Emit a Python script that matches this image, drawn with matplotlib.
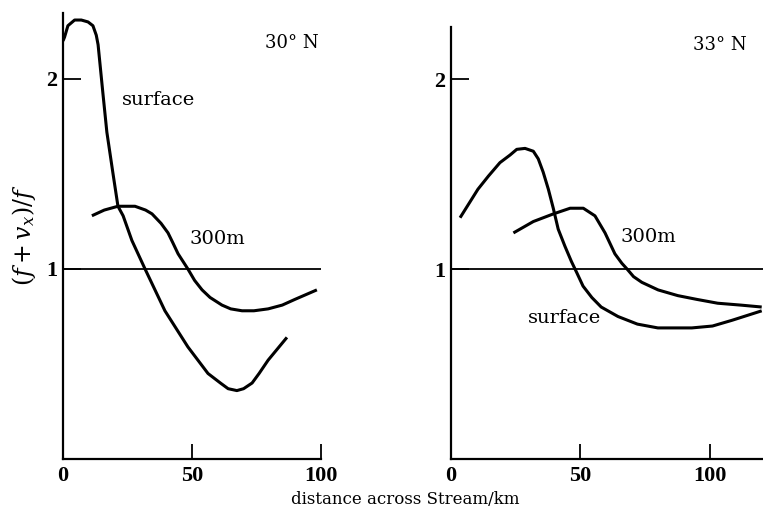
import matplotlib
matplotlib.use("Agg")
import matplotlib.pyplot as plt

plt.rcParams['font.family'] = 'DejaVu Serif'
plt.rcParams['mathtext.fontset'] = 'dejavuserif'

# ---- 30 N panel ----
x30_surf = [0, 0.6, 1.9, 4.5, 7.1, 9.7, 11.6, 12.9, 13.6, 15.5, 17, 19.4, 21.3, 23.3,
            26.7, 31.8, 39.5, 48.4, 56.2, 61, 64, 67.4, 70, 73.3, 76, 79.5, 86.8]
y30_surf = [2.20, 2.22, 2.28, 2.31, 2.31, 2.30, 2.28, 2.23, 2.18, 1.92, 1.72, 1.50,
            1.33, 1.28, 1.15, 1.0, 0.78, 0.59, 0.45, 0.40, 0.37, 0.36, 0.37, 0.40,
            0.45, 0.52, 0.64]
x30_300 = [11.2, 16, 21.3, 27.9, 32, 34.5, 38, 40.7, 42.5, 44.6, 46.5, 48.4, 51,
           53.9, 57, 61.6, 65, 69.4, 74, 79.5, 85, 89.9, 98.4]
y30_300 = [1.28, 1.31, 1.33, 1.33, 1.31, 1.29, 1.24, 1.19, 1.14, 1.08, 1.04, 1.0,
           0.94, 0.89, 0.85, 0.81, 0.79, 0.78, 0.78, 0.79, 0.81, 0.84, 0.89]

# ---- 33 N panel ----
x33_surf = [3.5, 10.4, 14.5, 18.9, 22.8, 25.4, 28.6, 31.8, 33.7, 35.6, 37.6, 39.5,
            41.4, 44.0, 46.5, 48.6, 51, 54.4, 58, 64.5, 72, 79.9, 93, 101, 108.5, 120]
y33_surf = [1.27, 1.42, 1.49, 1.56, 1.60, 1.63, 1.635, 1.62, 1.58, 1.51, 1.42, 1.32,
            1.21, 1.12, 1.04, 0.98, 0.91, 0.85, 0.80, 0.75, 0.71, 0.69, 0.69, 0.70,
            0.73, 0.78]
x33_300 = [24.1, 31.8, 39.5, 46, 51.1, 55.6, 59.5, 63.3, 66, 68, 70.5, 73.7, 80,
           87.6, 95, 103, 112, 120]
y33_300 = [1.19, 1.25, 1.29, 1.32, 1.32, 1.28, 1.19, 1.08, 1.03, 1.0, 0.96, 0.93,
           0.89, 0.86, 0.84, 0.82, 0.81, 0.80]

xticks = [0, 50, 100]
yticks = [1, 2]

W, H = 763, 514
fig = plt.figure(figsize=(W / 100, H / 100), dpi=100)
ax1 = fig.add_axes([63 / W, 1 - 459 / H, 258 / W, 446 / H])
ax2 = fig.add_axes([451 / W, 1 - 459 / H, 312 / W, 432 / H])

panels = [
    (ax1, x30_surf, y30_surf, x30_300, y30_300, (0, 100), 2.347),
    (ax2, x33_surf, y33_surf, x33_300, y33_300, (0, 120.5), 2.274),
]

for ax, xs, ys, xd, yd, xlim, ytop in panels:
    ax.plot(xs, ys, color='black', lw=2.2, solid_joinstyle='round', solid_capstyle='butt')
    ax.plot(xd, yd, color='black', lw=2.2, solid_joinstyle='round', solid_capstyle='butt')
    ax.axhline(1.0, color='black', lw=1.3)
    ax.set_xlim(*xlim)
    ax.set_ylim(0, ytop)
    for s in ['top', 'right']:
        ax.spines[s].set_visible(False)
    for s in ['left', 'bottom']:
        ax.spines[s].set_linewidth(1.6)
    ax.set_xticks(xticks)
    ax.set_yticks(yticks)
    ax.tick_params(axis='x', direction='in', length=11, width=1.3, pad=5)
    ax.tick_params(axis='y', direction='in', length=13, width=1.3, pad=4)
    for lab in ax.get_xticklabels() + ax.get_yticklabels():
        lab.set_fontfamily('Liberation Serif')
        lab.set_fontweight('bold')
        lab.set_fontsize(16)
    ax.set_facecolor('none')

ax1.text(78.3, 2.19, "30° N", fontsize=13, va='center', ha='left')
ax1.text(22.9, 1.89, "surface", fontsize=14, va='center', ha='left')
ax1.text(49.2, 1.16, "300m", fontsize=14, va='center', ha='left')

ax2.text(93.4, 2.18, "33° N", fontsize=13, va='center', ha='left')
ax2.text(65.3, 1.17, "300m", fontsize=14, va='center', ha='left')
ax2.text(29.7, 0.74, "surface", fontsize=14, va='center', ha='left')

fig.text(24 / W, 1 - 235 / H, r"$(f+v_x)/f$", rotation=90, fontsize=17,
         ha='center', va='center')
fig.text(405 / W, 1 - 499 / H, "distance across Stream/km", fontsize=12,
         ha='center', va='center')

fig.savefig("out.png", dpi=100)
